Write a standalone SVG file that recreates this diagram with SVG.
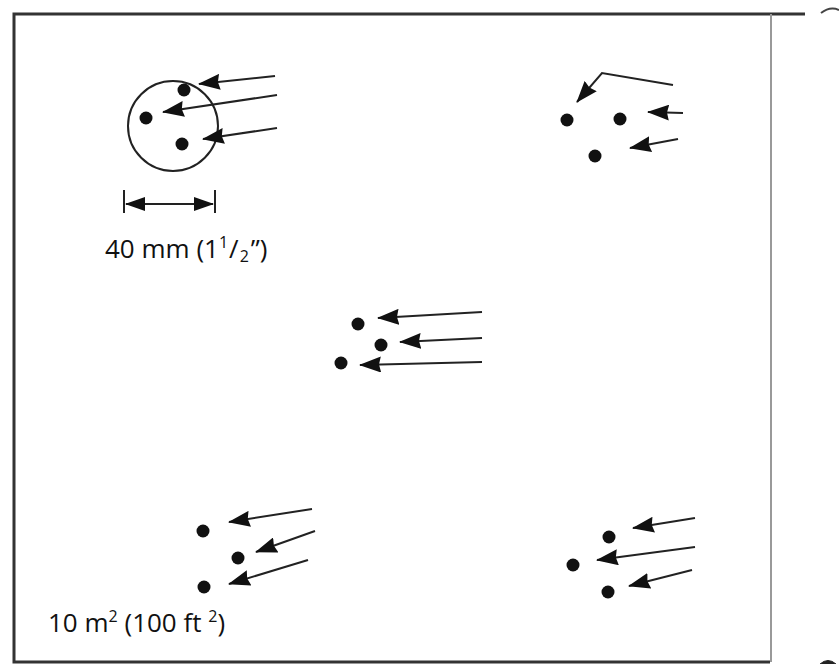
<svg xmlns="http://www.w3.org/2000/svg" width="839" height="664" viewBox="0 0 839 664">
  <style>
    .frame { fill: none; stroke: #333; stroke-width: 3; }
    .divider { fill: none; stroke: #999; stroke-width: 2; }
    .dot { fill: #111; }
    .arrow { fill: none; stroke: #222; stroke-width: 2; marker-end: url(#ah); }
    .dim { fill: none; stroke: #222; stroke-width: 2; }
    .ring { fill: none; stroke: #222; stroke-width: 2; }
    .label { font-family: "Open Sans", "Liberation Sans", sans-serif; font-size: 26px; fill: #111; }
    .small { font-size: 16px; }
  </style>
  <defs>
    <marker id="ah" viewBox="0 0 22 16" refX="21" refY="8" markerWidth="22" markerHeight="16" markerUnits="userSpaceOnUse" orient="auto">
      <path d="M22,8 L0,0 L2,8 L0,16 z" fill="#111"/>
    </marker>
    <marker id="ahs" viewBox="0 0 20 14" refX="19" refY="7" markerWidth="20" markerHeight="14" markerUnits="userSpaceOnUse" orient="auto-start-reverse">
      <path d="M0,0 L20,7 L0,14 z" fill="#111"/>
    </marker>
  </defs>

  <g id="frame">
    <path class="frame" d="M805,14 L14,14 L14,662 L770,662"/>
    <line class="divider" x1="771" y1="14" x2="771" y2="662"/>
    <path d="M821,13 Q830,6 839,10" fill="none" stroke="#444" stroke-width="2"/>
    <path d="M820,664 Q828,657 836,664" fill="#222" stroke="#222" stroke-width="1"/>
  </g>

  <g id="cluster-top-left">
    <circle class="ring" cx="173" cy="126" r="45"/>
    <circle class="dot" cx="184" cy="90" r="6.5"/>
    <circle class="dot" cx="146" cy="118" r="6.5"/>
    <circle class="dot" cx="182" cy="144" r="6.5"/>
  </g>

  <g id="dimension">
    <line class="dim" x1="124" y1="190" x2="124" y2="213"/>
    <line class="dim" x1="215" y1="190" x2="215" y2="213"/>
    <line class="dim" x1="126" y1="204" x2="213" y2="204" marker-start="url(#ahs)" marker-end="url(#ahs)"/>
  </g>

  <g id="cluster-top-right">
    <circle class="dot" cx="567" cy="120" r="6.5"/>
    <circle class="dot" cx="620" cy="119" r="6.5"/>
    <circle class="dot" cx="595" cy="156" r="6.5"/>
  </g>

  <g id="cluster-middle">
    <circle class="dot" cx="358" cy="324" r="6.5"/>
    <circle class="dot" cx="381" cy="345" r="6.5"/>
    <circle class="dot" cx="341" cy="363" r="6.5"/>
  </g>

  <g id="cluster-bottom-left">
    <circle class="dot" cx="203" cy="531" r="6.5"/>
    <circle class="dot" cx="238" cy="558" r="6.5"/>
    <circle class="dot" cx="204" cy="587" r="6.5"/>
  </g>

  <g id="cluster-bottom-right">
    <circle class="dot" cx="609" cy="537" r="6.5"/>
    <circle class="dot" cx="573" cy="565" r="6.5"/>
    <circle class="dot" cx="608" cy="592" r="6.5"/>
  </g>

  <g id="connectors">
    <line class="arrow" x1="275" y1="76" x2="199" y2="84"/>
    <line class="arrow" x1="277" y1="95" x2="163" y2="112"/>
    <line class="arrow" x1="277" y1="128" x2="203" y2="139"/>

    <polyline class="arrow" points="673,85 602,73 577,102"/>
    <line class="arrow" x1="683" y1="113" x2="648" y2="112"/>
    <line class="arrow" x1="678" y1="139" x2="630" y2="148"/>

    <line class="arrow" x1="482" y1="312" x2="378" y2="318"/>
    <line class="arrow" x1="482" y1="338" x2="400" y2="342"/>
    <line class="arrow" x1="482" y1="362" x2="360" y2="365"/>

    <line class="arrow" x1="312" y1="509" x2="229" y2="522"/>
    <line class="arrow" x1="315" y1="531" x2="256" y2="552"/>
    <line class="arrow" x1="308" y1="560" x2="229" y2="584"/>

    <line class="arrow" x1="695" y1="518" x2="633" y2="528"/>
    <line class="arrow" x1="695" y1="547" x2="597" y2="560"/>
    <line class="arrow" x1="692" y1="570" x2="629" y2="586"/>
  </g>

  <g id="labels">
    <text class="label" x="105" y="258">40 mm (1<tspan class="small" dy="-10">1</tspan><tspan dx="1" dy="10">/</tspan><tspan class="small" dx="1" dy="4">2</tspan><tspan dx="2" dy="-4">”)</tspan></text>
    <text class="label" x="48" y="632">10 m<tspan class="small" dy="-10">2</tspan><tspan dy="10"> (100 ft </tspan><tspan class="small" dy="-10">2</tspan><tspan dy="10">)</tspan></text>
  </g>
</svg>
